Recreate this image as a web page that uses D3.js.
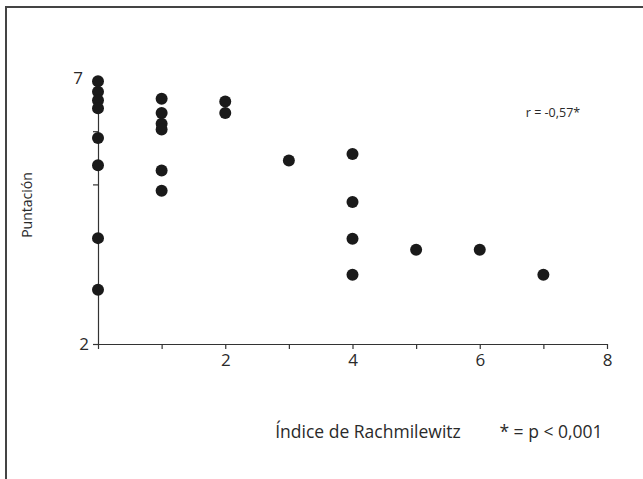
<!DOCTYPE html>
<meta charset="utf-8">
<script src="https://d3js.org/d3.v7.min.js"></script>
<style>
  body { margin: 0; background: #fff; }
  text { font-family: "Open Sans", "Noto Sans", sans-serif; fill: #2a2a2a; }
</style>
<div id="chart"></div>
<script>
// data
var indice = [0,0,0,0,0,0,0,0, 1,1,1,1,1,1, 2,2, 3, 4,4,4,4, 5, 6, 7];
var puntacion = [6.94,6.74,6.58,6.43,5.87,5.36,3.99,3.02,
                 6.61,6.34,6.14,6.03,5.26,4.88,
                 6.56,6.34,
                 5.45,
                 5.57,4.67,3.98,3.30,
                 3.77, 3.77, 3.30];
var xTicks = [0,1,2,3,4,5,6,7,8];
var xLabels = [2,4,6,8];
var yTicks = [2,3,4,5,6,7];
var yLabels = [2,7];

var W = 643, H = 479;
var margin = {top: 78, right: 36, bottom: 135, left: 98},
    width = W - margin.left - margin.right,
    height = H - margin.top - margin.bottom;

var root = d3.select("#chart").append("svg")
    .attr("width", W)
    .attr("height", H);

// outer frame (only top and left edges fall inside the window)
root.append("rect")
    .attr("x", 6).attr("y", 7)
    .attr("width", W + 10).attr("height", H + 10)
    .attr("fill", "none")
    .attr("stroke", "#444")
    .attr("stroke-width", 2);

var svg = root.append("g")
    .attr("transform", "translate(" + margin.left + "," + margin.top + ")");

var x = d3.scaleLinear().domain([0, 8]).range([0, width]);
var y = d3.scaleLinear().domain([2, 7]).range([height, 0]);

// X axis
var gx = svg.append("g")
    .attr("transform", "translate(0," + height + ")")
    .call(d3.axisBottom(x).tickValues(xTicks).tickSize(5).tickSizeOuter(0)
      .tickFormat(function(d) { return xLabels.indexOf(d) >= 0 ? d : ""; }));
gx.selectAll("text").style("font-size", "17px").attr("y", 8).attr("dy", "0.85em");

// Y axis
var gy = svg.append("g")
    .call(d3.axisLeft(y).tickValues(yTicks).tickSize(5).tickSizeOuter(0)
      .tickFormat(function(d) { return yLabels.indexOf(d) >= 0 ? d : ""; }));
gy.selectAll("text").style("font-size", "17px").attr("x", -9);
gy.selectAll(".tick").filter(function(d) { return d === 7; })
    .select("text").attr("x", -15);

svg.selectAll(".domain, .tick line")
    .attr("stroke", "#333")
    .attr("stroke-width", 1.2);

// dots
svg.append("g")
  .selectAll("circle")
  .data(indice)
  .join("circle")
    .attr("cx", function(d) { return x(d); })
    .attr("cy", function(d, i) { return y(puntacion[i]); })
    .attr("r", 6)
    .style("fill", "#1a1a1a");

// texts
root.append("text")
    .attr("x", 553).attr("y", 117)
    .attr("text-anchor", "middle")
    .style("font-size", "12.5px")
    .text("r = -0,57*");

root.append("text")
    .attr("transform", "translate(32,205) rotate(-90)")
    .attr("text-anchor", "middle")
    .style("font-size", "14px")
    .text("Puntación");

root.append("text")
    .attr("x", 368).attr("y", 438)
    .attr("text-anchor", "middle")
    .style("font-size", "17.5px")
    .text("Índice de Rachmilewitz");

root.append("text")
    .attr("x", 551).attr("y", 438)
    .attr("text-anchor", "middle")
    .style("font-size", "17.5px")
    .text("* = p < 0,001");
</script>
